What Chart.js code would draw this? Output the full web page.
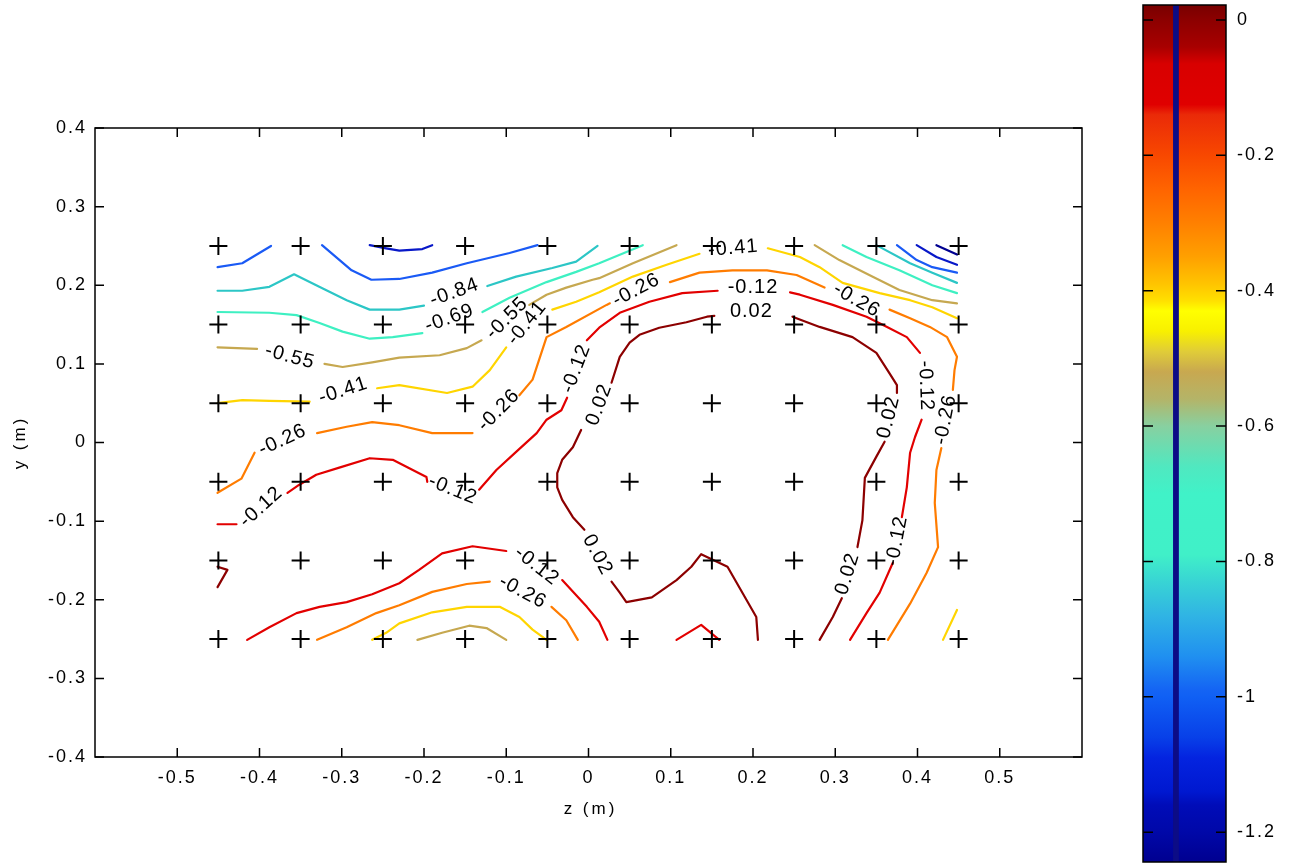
<!DOCTYPE html>
<html><head><meta charset="utf-8">
<script src="https://cdn.jsdelivr.net/npm/chart.js"></script>
<style>
html,body{margin:0;padding:0;background:#fff;width:1292px;height:867px;overflow:hidden}
#main{position:absolute;left:0;top:0}
#cb{position:absolute;left:1100px;top:0}
</style></head><body>
<canvas id="main" width="1100" height="867"></canvas>
<canvas id="cb" width="192" height="867"></canvas>
<script>
// ---------- data ----------
const gridZ = [-0.45,-0.35,-0.25,-0.15,-0.05,0.05,0.15,0.25,0.35,0.45];
const gridY = [0.25,0.15,0.05,-0.05,-0.15,-0.25];
const xTicks = [-0.5,-0.4,-0.3,-0.2,-0.1,0,0.1,0.2,0.3,0.4,0.5];
const yTicks = [-0.4,-0.3,-0.2,-0.1,0,0.1,0.2,0.3,0.4];
const cbTicks = [0,-0.2,-0.4,-0.6,-0.8,-1,-1.2];
const cbMin = -1.244, cbMax = 0.022;

// contour polylines, [z, y] pairs, one array per level
const c002 = [
 [[0.206,-0.251],[0.204,-0.222],[0.169,-0.158],[0.151,-0.149],[0.137,-0.142],[0.125,-0.158],[0.107,-0.175],[0.077,-0.197],[0.046,-0.203],[0.038,-0.191],[0.028,-0.177]],
 [[-0.005,-0.111],[-0.019,-0.095],[-0.032,-0.073],[-0.038,-0.057],[-0.038,-0.039],[-0.032,-0.022],[-0.019,-0.006],[-0.009,0.016]],
 [[0.028,0.076],[0.038,0.109],[0.050,0.127],[0.062,0.137],[0.086,0.146],[0.119,0.153],[0.144,0.160],[0.153,0.161]],
 [[0.248,0.160],[0.281,0.147],[0.321,0.134],[0.350,0.114],[0.366,0.088],[0.375,0.073],[0.375,0.063]],
 [[0.360,0.001],[0.350,-0.018],[0.336,-0.045],[0.333,-0.099],[0.327,-0.133]],
 [[0.308,-0.198],[0.297,-0.222],[0.281,-0.251]],
 [[-0.451,-0.158],[-0.439,-0.162],[-0.451,-0.184]]
];
const c012 = [
 [[-0.451,-0.104],[-0.428,-0.104]],
 [[-0.366,-0.064],[-0.352,-0.054],[-0.331,-0.041],[-0.303,-0.032],[-0.266,-0.020],[-0.238,-0.022],[-0.206,-0.039],[-0.197,-0.044],[-0.196,-0.050]],
 [[-0.133,-0.060],[-0.112,-0.035],[-0.088,-0.012],[-0.063,0.012],[-0.051,0.029],[-0.033,0.041],[-0.026,0.057]],
 [[-0.002,0.130],[0.013,0.146],[0.038,0.165],[0.074,0.179],[0.114,0.190],[0.157,0.193]],
 [[0.245,0.191],[0.257,0.188],[0.297,0.175],[0.338,0.160],[0.363,0.147],[0.387,0.134],[0.403,0.114]],
 [[0.405,0.029],[0.397,0.007],[0.391,-0.013],[0.387,-0.057],[0.381,-0.095]],
 [[0.370,-0.153],[0.354,-0.191],[0.338,-0.217],[0.318,-0.251]],
 [[-0.415,-0.251],[-0.388,-0.235],[-0.355,-0.217],[-0.327,-0.209],[-0.294,-0.203],[-0.263,-0.193],[-0.230,-0.179],[-0.206,-0.162],[-0.178,-0.141],[-0.141,-0.132],[-0.100,-0.138]],
 [[-0.032,-0.175],[-0.002,-0.209],[0.013,-0.228],[0.023,-0.251]],
 [[0.107,-0.251],[0.137,-0.232],[0.159,-0.251]]
];
const c026 = [
 [[-0.451,-0.064],[-0.422,-0.046],[-0.406,-0.013]],
 [[-0.330,0.012],[-0.294,0.020],[-0.263,0.026],[-0.230,0.022],[-0.190,0.012],[-0.141,0.012]],
 [[-0.084,0.060],[-0.068,0.080],[-0.051,0.134],[-0.027,0.147],[0.022,0.175],[0.026,0.177]],
 [[0.099,0.204],[0.135,0.216],[0.175,0.219],[0.217,0.219],[0.253,0.213],[0.287,0.197]],
 [[0.366,0.169],[0.391,0.158],[0.415,0.147],[0.436,0.134],[0.448,0.109],[0.445,0.092],[0.443,0.067]],
 [[0.429,-0.007],[0.423,-0.035],[0.421,-0.077],[0.425,-0.133],[0.411,-0.166],[0.391,-0.205],[0.364,-0.251]],
 [[-0.330,-0.251],[-0.294,-0.235],[-0.258,-0.217],[-0.230,-0.207],[-0.190,-0.190],[-0.148,-0.180],[-0.120,-0.177]],
 [[-0.045,-0.209],[-0.027,-0.226],[-0.013,-0.251]]
];
const c041 = [
 [[-0.451,0.050],[-0.421,0.054],[-0.388,0.053],[-0.339,0.052]],
 [[-0.257,0.069],[-0.230,0.073],[-0.172,0.063],[-0.141,0.071],[-0.120,0.092],[-0.100,0.121]],
 [[-0.044,0.169],[-0.015,0.179],[0.013,0.191],[0.054,0.211],[0.095,0.226],[0.135,0.240]],
 [[0.218,0.247],[0.257,0.236],[0.281,0.223],[0.309,0.203],[0.354,0.190],[0.391,0.181],[0.418,0.172],[0.448,0.158]],
 [[-0.263,-0.251],[-0.246,-0.242],[-0.230,-0.230],[-0.190,-0.216],[-0.148,-0.209],[-0.108,-0.209],[-0.084,-0.222],[-0.068,-0.238],[-0.051,-0.251]],
 [[0.448,-0.213],[0.431,-0.251]]
];
const c055 = [
 [[-0.451,0.121],[-0.403,0.119]],
 [[-0.321,0.100],[-0.299,0.096],[-0.263,0.102],[-0.230,0.108],[-0.181,0.111],[-0.148,0.120],[-0.130,0.130]],
 [[-0.072,0.175],[-0.051,0.188],[-0.027,0.197],[0.005,0.207],[0.013,0.209],[0.054,0.228],[0.107,0.251]],
 [[0.275,0.251],[0.305,0.232],[0.345,0.211],[0.378,0.194],[0.418,0.181],[0.448,0.177]],
 [[-0.208,-0.251],[-0.178,-0.242],[-0.145,-0.233],[-0.124,-0.236],[-0.100,-0.251]]
];
const c069 = [
 [[-0.451,0.166],[-0.388,0.165],[-0.355,0.162],[-0.327,0.152],[-0.299,0.141],[-0.266,0.132],[-0.238,0.134],[-0.202,0.139]],
 [[-0.129,0.166],[-0.096,0.184],[-0.051,0.204],[-0.015,0.217],[0.013,0.228],[0.066,0.251]],
 [[0.309,0.251],[0.338,0.236],[0.378,0.219],[0.418,0.200],[0.448,0.190]]
];
const c084 = [
 [[-0.451,0.193],[-0.421,0.193],[-0.388,0.198],[-0.358,0.214],[-0.331,0.200],[-0.294,0.181],[-0.266,0.169],[-0.230,0.169],[-0.200,0.174]],
 [[-0.123,0.199],[-0.088,0.211],[-0.044,0.222],[-0.015,0.230],[0.011,0.250]],
 [[0.350,0.251],[0.391,0.228],[0.418,0.216],[0.448,0.203]]
];
const c098 = [
 [[-0.451,0.223],[-0.421,0.228],[-0.386,0.250]],
 [[-0.324,0.251],[-0.288,0.219],[-0.264,0.207],[-0.230,0.208],[-0.190,0.216],[-0.148,0.228],[-0.096,0.241],[-0.062,0.251]],
 [[0.375,0.251],[0.399,0.232],[0.418,0.223],[0.448,0.216]]
];
const c112 = [
 [[-0.266,0.251],[-0.246,0.247],[-0.230,0.244],[-0.202,0.246],[-0.190,0.251]],
 [[0.399,0.251],[0.423,0.236],[0.448,0.226]]
];
const c126 = [
 [[0.423,0.251],[0.448,0.239]]
];

// contour labels: [text, z, y, angle(deg)]
const clabels = [
 ['-0.84',-0.163,0.191,-20], ['-0.69',-0.169,0.158,-20],
 ['-0.55',-0.363,0.109,15], ['-0.55',-0.099,0.158,-45],
 ['-0.41',-0.298,0.066,-18], ['-0.41',-0.075,0.152,-51], ['-0.41',0.176,0.247,-5],
 ['-0.26',-0.372,0.003,-25], ['-0.26',-0.109,0.041,-45], ['-0.26',0.058,0.194,-28],
 ['-0.26',0.326,0.181,30], ['-0.26',0.434,0.029,-79], ['-0.26',-0.080,-0.190,28],
 ['-0.12',-0.398,-0.082,-42], ['-0.12',-0.165,-0.060,22], ['-0.12',-0.015,0.094,-69],
 ['-0.12',0.200,0.197,0], ['-0.12',0.410,0.072,88], ['-0.12',0.375,-0.125,-79],
 ['-0.12',-0.063,-0.157,38],
 ['0.02',0.013,0.048,-70], ['0.02',0.011,-0.143,62], ['0.02',0.198,0.167,0],
 ['0.02',0.365,0.032,-76], ['0.02',0.315,-0.167,-73]
];

// colorbar colour stops [value, colour]
const cbStops = [
 [0.022,'#780000'],[0.0,'#8c0000'],[-0.04,'#a80000'],[-0.065,'#d80000'],[-0.125,'#e00000'],
 [-0.14,'#ea2a08'],[-0.2,'#f84800'],[-0.25,'#ff6400'],[-0.3,'#ff8000'],[-0.35,'#ffa000'],
 [-0.39,'#ffc400'],[-0.415,'#ffe000'],[-0.43,'#ffff00'],[-0.46,'#f8f000'],[-0.49,'#e0cc38'],
 [-0.52,'#c8a850'],[-0.56,'#b4b468'],[-0.6,'#88d0a0'],[-0.66,'#50e8c0'],[-0.7,'#40f2c8'],
 [-0.79,'#40f0c8'],[-0.83,'#38d4d4'],[-0.88,'#30b4e4'],[-0.94,'#2090f0'],[-0.99,'#1464f4'],
 [-1.0,'#1060f4'],[-1.06,'#0840e8'],[-1.09,'#0424e0'],[-1.14,'#0018d0'],[-1.16,'#000cb8'],
 [-1.2,'#0008a8'],[-1.244,'#000090']
];

// ---------- styles ----------
const FONT = '"Liberation Sans", Arial, Helvetica, sans-serif';
const TICK_FONT = {family:FONT, size:18};
const levelSets = [
 [c126,'#000090'],[c112,'#0818c8'],[c098,'#1a5af5'],[c084,'#2cc6c6'],[c069,'#3ef0c2'],
 [c055,'#c6a850'],[c041,'#ffd500'],[c026,'#ff7c00'],[c012,'#e20000'],[c002,'#8c0000']
];
const fmt = v => String(Number(Number(v).toFixed(2)));

const datasets = [];
levelSets.forEach(([segs,col]) => {
  segs.forEach(seg => datasets.push({
    data: seg.map(([x,y]) => ({x,y})),
    showLine:true, borderColor:col, backgroundColor:col, borderWidth:2.2,
    pointRadius:0, tension:0, order:2, borderJoinStyle:'round', borderCapStyle:'round'
  }));
});
const crossPts = [];
gridY.forEach(y => gridZ.forEach(x => crossPts.push({x,y})));
datasets.push({data:crossPts, showLine:false, pointStyle:'cross', pointRadius:9,
  pointBorderWidth:2, borderColor:'#000', backgroundColor:'#000', order:1});

const mainDecor = {
  id:'mainDecor',
  beforeDraw(chart){ chart.ctx.letterSpacing = '2px'; },
  afterDatasetsDraw(chart){
    const {ctx, scales:{x,y}} = chart;
    ctx.save();
    ctx.fillStyle = '#000';
    ctx.font = '20px ' + FONT;
    ctx.letterSpacing = '1px';
    ctx.textAlign = 'center'; ctx.textBaseline = 'middle';
    clabels.forEach(([t,z,v,a]) => {
      ctx.save();
      ctx.translate(x.getPixelForValue(z), y.getPixelForValue(v));
      ctx.rotate(a*Math.PI/180);
      ctx.fillText(t,0,0);
      ctx.restore();
    });
    ctx.restore();
  },
  afterDraw(chart){
    const {ctx, chartArea:a, scales:{x,y}} = chart;
    ctx.save();
    ctx.strokeStyle = '#000'; ctx.lineWidth = 1.5;
    ctx.strokeRect(a.left, a.top, a.right-a.left, a.bottom-a.top);
    const L = 9;
    ctx.beginPath();
    xTicks.forEach(v => { const p = x.getPixelForValue(v);
      ctx.moveTo(p,a.bottom); ctx.lineTo(p,a.bottom-L);
      ctx.moveTo(p,a.top); ctx.lineTo(p,a.top+L); });
    yTicks.forEach(v => { const p = y.getPixelForValue(v);
      ctx.moveTo(a.left,p); ctx.lineTo(a.left+L,p);
      ctx.moveTo(a.right,p); ctx.lineTo(a.right-L,p); });
    ctx.stroke();
    ctx.fillStyle = '#000';
    ctx.font = '17px ' + FONT;
    ctx.letterSpacing = '3px';
    ctx.textAlign = 'center'; ctx.textBaseline = 'middle';
    ctx.fillText('z (m)', (a.left+a.right)/2 + 2, a.bottom+52);
    ctx.translate(20, (a.top+a.bottom)/2);
    ctx.rotate(-Math.PI/2);
    ctx.fillText('y (m)', 0, 0);
    ctx.restore();
  }
};

new Chart(document.getElementById('main'), {
  type:'scatter',
  data:{datasets},
  options:{
    responsive:false, animation:false, devicePixelRatio:1,
    layout:{padding:{left:0, top:128, right:18, bottom:70}},
    plugins:{legend:{display:false}, tooltip:{enabled:false}},
    scales:{
      x:{type:'linear', min:-0.6, max:0.6,
        afterBuildTicks: s => { s.ticks = xTicks.map(v => ({value:v})); },
        afterFit: s => { s.height = 40; s.paddingLeft = 0; s.paddingRight = 0; },
        ticks:{callback: v => fmt(v), color:'#000', font:TICK_FONT, padding:10, maxRotation:0, autoSkip:false},
        grid:{display:false, drawTicks:false}, border:{display:false}},
      y:{type:'linear', min:-0.4, max:0.4,
        afterBuildTicks: s => { s.ticks = yTicks.map(v => ({value:v})); },
        afterFit: s => { s.width = 95; s.paddingTop = 0; s.paddingBottom = 0; },
        ticks:{callback: v => fmt(v), color:'#000', font:TICK_FONT, padding:8, autoSkip:false},
        grid:{display:false, drawTicks:false}, border:{display:false}}
    }
  },
  plugins:[mainDecor]
});

// ---------- colorbar ----------
const cbDecor = {
  id:'cbDecor',
  beforeDraw(chart){ chart.ctx.letterSpacing = '2px'; },
  afterDatasetsDraw(chart){
    const {ctx, chartArea:a, scales:{y}} = chart;
    const w = a.right - a.left;
    ctx.save();
    ctx.fillStyle = '#0c0c86';
    ctx.fillRect(a.left + w*0.362, a.top, w*0.07, a.bottom-a.top);
    ctx.strokeStyle = '#000'; ctx.lineWidth = 1.5;
    ctx.strokeRect(a.left, a.top, w, a.bottom-a.top);
    ctx.beginPath();
    cbTicks.forEach(v => { const p = y.getPixelForValue(v);
      ctx.moveTo(a.left,p); ctx.lineTo(a.left+10,p);
      ctx.moveTo(a.right,p); ctx.lineTo(a.right-10,p); });
    ctx.stroke();
    ctx.restore();
  }
};

new Chart(document.getElementById('cb'), {
  type:'bar',
  data:{labels:[''], datasets:[{
    data:[[cbMin, cbMax]], borderWidth:0, borderSkipped:false,
    barPercentage:1, categoryPercentage:1,
    backgroundColor: c => {
      const chart = c.chart; const {chartArea, scales} = chart;
      if (!chartArea) return '#888';
      const y0 = scales.y.getPixelForValue(cbMax), y1 = scales.y.getPixelForValue(cbMin);
      const g = chart.ctx.createLinearGradient(0, y0, 0, y1);
      cbStops.forEach(([v,col]) => g.addColorStop(Math.min(1, Math.max(0, (cbMax-v)/(cbMax-cbMin))), col));
      return g;
    }
  }]},
  options:{
    responsive:false, animation:false, devicePixelRatio:1,
    layout:{padding:{left:43, top:5, right:0, bottom:5}},
    plugins:{legend:{display:false}, tooltip:{enabled:false}},
    scales:{
      x:{display:false},
      y:{position:'right', min:cbMin, max:cbMax,
        afterBuildTicks: s => { s.ticks = cbTicks.map(v => ({value:v})); },
        afterFit: s => { s.width = 66; s.paddingTop = 0; s.paddingBottom = 0; },
        ticks:{callback: v => fmt(v), color:'#000', font:TICK_FONT, padding:11, autoSkip:false},
        grid:{display:false, drawTicks:false}, border:{display:false}}
    }
  },
  plugins:[cbDecor]
});
</script>
</body></html>
